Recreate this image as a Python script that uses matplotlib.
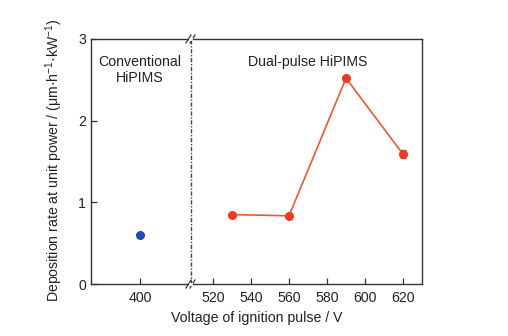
import matplotlib
matplotlib.use("Agg")
import matplotlib.pyplot as plt
import numpy as np

plt.rcParams['font.family'] = ['Liberation Sans', 'DejaVu Sans']
plt.rcParams['mathtext.fontset'] = 'custom'
plt.rcParams['mathtext.rm'] = 'Liberation Sans'
plt.rcParams['mathtext.it'] = 'Liberation Sans'

# Conventional HiPIMS
conv_voltage = [400]
conv_rate = [0.60]

# Dual-pulse HiPIMS
dual_voltage = [530, 560, 590, 620]
dual_rate = [0.85, 0.835, 2.52, 1.59]
dual_err = [0.02, 0.02, 0.02, 0.05]

left_ticks = [400]
right_ticks = [520, 540, 560, 580, 600, 620]
y_ticks = [0, 1, 2, 3]

W, H = 508, 336
fig = plt.figure(figsize=(W / 100, H / 100), dpi=100)

x0, xb, x1 = 91, 191, 422
y0, y1 = 284, 39
bottom = (H - y0) / H
height = (y0 - y1) / H
axL = fig.add_axes([x0 / W, bottom, (xb - x0) / W, height])
axR = fig.add_axes([xb / W, bottom, (x1 - xb) / W, height], sharey=axL)

dark = '#333333'
fs = 10.2

for ax in (axL, axR):
    for s in ax.spines.values():
        s.set_color(dark)
        s.set_linewidth(1.0)
    ax.tick_params(direction='in', length=4, width=0.9, color=dark,
                   labelsize=fs, labelcolor='#222222')

axL.spines['right'].set_visible(False)
axR.spines['left'].set_visible(False)
axR.tick_params(axis='y', left=False, labelleft=False)

axL.set_xlim(374.2, 427.0)
axR.set_xlim(508.4, 630.0)
axL.set_ylim(0, 3)
axL.set_yticks(y_ticks)
axL.set_xticks(left_ticks)
axR.set_xticks(right_ticks)
axL.tick_params(axis='x', pad=5)
axR.tick_params(axis='x', pad=5)

axL.plot(conv_voltage, conv_rate, 'o', color='#1d4fae', ms=5.5, zorder=3)

axR.errorbar(dual_voltage, dual_rate, yerr=dual_err, color='#f2552f',
             lw=1.2, marker='o', ms=5.5, mfc='#ee3a1e', mec='#ee3a1e',
             capsize=2, elinewidth=0.8, zorder=3)

# dash-dot divider at the axis break
axR.axvline(508.4, color='#444444', lw=1.0, ls=(0, (3, 1.2, 1, 1.2)),
            zorder=2, clip_on=False)

# break marks on top and bottom spines
d = 4
for yy in (y1, y0):
    for dx in (-2.5, 1.5):
        xs = np.array([xb + dx - 2.5, xb + dx + 2.5]) / W
        ys = (H - np.array([yy + d, yy - d])) / H
        fig.add_artist(plt.Line2D(xs, ys, color=dark, lw=0.9))
    # white gap in the spine between the marks
    fig.add_artist(plt.Line2D([(xb - 1.2) / W, (xb + 0.2) / W],
                              [(H - yy) / H, (H - yy) / H],
                              color='white', lw=2.0))

axL.text(400, 2.62, 'Conventional\nHiPIMS', ha='center', va='center',
         fontsize=fs, color='#222222', linespacing=1.25)
axR.text(570, 2.72, 'Dual-pulse HiPIMS', ha='center', va='center',
         fontsize=fs, color='#222222')

fig.text(54 / W, (H - 160) / H,
         'Deposition rate at unit power / (μm·h$^{-1}$·kW$^{-1}$)',
         rotation=90, ha='center', va='center', fontsize=fs, color='#222222')
fig.text(257 / W, (H - 318) / H, 'Voltage of ignition pulse / V',
         ha='center', va='center', fontsize=fs, color='#222222')

fig.savefig('out.png', dpi=100)
